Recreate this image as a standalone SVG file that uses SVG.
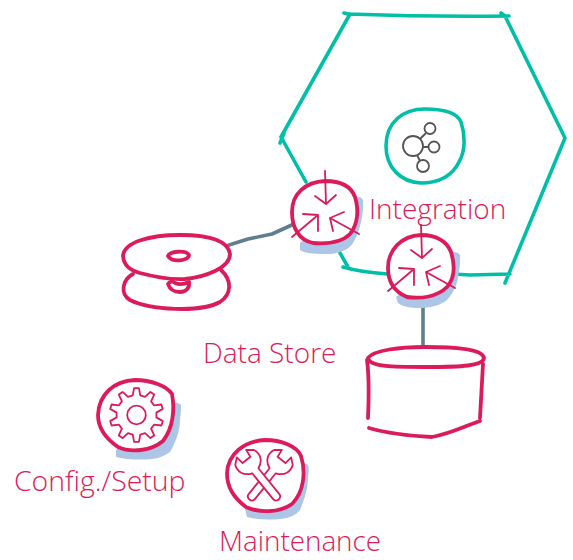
<svg xmlns="http://www.w3.org/2000/svg" width="573" height="560" viewBox="0 0 573 560">
<style>
.teal{fill:none;stroke:#00bfa8;stroke-width:3.6;stroke-linecap:round;stroke-linejoin:round}
.tealw{fill:#fff;stroke:#00bfa8;stroke-width:3.6;stroke-linejoin:round}
.red{fill:none;stroke:#dc1b5a;stroke-width:3.8;stroke-linecap:round;stroke-linejoin:round}
.redw{fill:#fff;stroke:#dc1b5a;stroke-width:3.8;stroke-linecap:round;stroke-linejoin:round}
.thin{fill:none;stroke:#dc1b5a;stroke-width:1.8;stroke-linecap:round;stroke-linejoin:round}
.thinw{fill:#fff;stroke:#dc1b5a;stroke-width:1.8;stroke-linecap:round;stroke-linejoin:round}
.conn{fill:none;stroke:#5f7f8e;stroke-width:3.6;stroke-linecap:round;stroke-linejoin:round}
.shadow{fill:#adc5e6}
.gray{fill:none;stroke:#555;stroke-width:1.8}
text{font-family:"Open Sans","Noto Sans",sans-serif;font-weight:300;font-size:28px;fill:#dc1b5a}
</style>
<defs>
<g id="compress">
<path class="thin" d="M0 -33L1 0M-10 -8L1 0L11 -9"/>
<path class="thin" d="M-33 33L-7 11M-22 10L-7 11L-7 27"/>
<path class="thin" d="M34 30L5 14M19 8L5 14L8 27"/>
</g>
<path id="wrench" d="M-4 10L-4 43Q-4 47 0 47Q4 47 4 43L4 10C12 7 15 0 12 -7L6 -12L5 -4L-5 -4L-6 -12L-12 -7C-15 0 -12 7 -4 10Z"/>
</defs>
<g id="connectors">
<path class="conn" d="M229 245L248 239L272 234L294 224"/>
<path class="conn" d="M423 304L423 347"/>
</g>
<g id="integration-boundary">
<path class="teal" d="M344 13L348 14Q430 17 509 16M501 13L505 16L565 138L505 283M350 14L281 137M284 133L280 143M281 137L306 182M340 253L348 267M343 267Q360 272 387 274M453 274L470 275L510 274"/>
</g>
<g id="integration-hub">
<path class="tealw" d="M386 146C386 122 403 109 425 109C441 109 457 112 461 122C465 134 466 150 459 162C451 178 436 183 421 183C401 182 386 168 386 146Z"/>
<g class="gray">
<circle cx="413" cy="146" r="10"/><circle cx="430" cy="128.500" r="5.500"/><circle cx="434" cy="147" r="5.500"/><circle cx="423" cy="166" r="6"/>
<path d="M420 139L426 133M423 147L428 147M417 155L420 161"/>
</g>
</g>
<g id="data-store-disks">
<path class="red" d="M133 274C122 280 120 294 130 300C150 310 200 313 220 302C232 294 232 280 221 270"/>
<path class="redw" d="M180 235C150 235 124 242 123 256C124 266 130 270 140 273C155 277 170 280 185 279C205 277 230 268 230 254C228 240 208 235 180 235Z"/>
<path class="red" d="M168 256C170 251 186 250 189 255C189 261 172 263 168 256Z"/>
<path class="red" d="M168 284C170 281 173 281 175 283C180 285 185 284 189 282C190 288 186 292 180 292C174 292 170 290 168 284Z"/>
</g>
<g id="cylinder">
<path class="red" d="M368 358C374 350 400 347 425 347C455 347 483 349 484 358C483 366 462 367 425 367C395 367 369 367 368 358Z"/>
<path class="red" d="M367 360C369 375 369 395 368 418M369 428C390 434 412 436 432 437C450 434 465 426 480 421M483 364C482 380 481 400 480 418"/>
</g>
<g id="compute-node-1">
<path class="shadow" d="M300 243L300 250C305 254 318 254 330 254C342 253 350 248 353 243C360 232 364 213 363 200C362 197 358 196 355 197Z"/>
<path class="redw" d="M292 212C292 194 305 182 325 181C341 181 351 186 355 197C359 210 358 224 350 234C341 243 326 244 313 243C299 240 292 228 292 212Z"/>
<use href="#compress" x="325" y="204"/>
</g>
<g id="compute-node-2">
<path class="shadow" d="M396 297L398 303C405 308 414 308 423 308C435 307 442 304 447 300C454 292 457 285 458 277C460 268 460 262 460 255C458 252 455 252 452 252Z"/>
<path class="redw" d="M388 268C388 250 401 236 421 235C437 235 447 242 451 252C455 265 455 278 447 287C437 297 421 299 407 297C395 292 388 282 388 268Z"/>
<use href="#compress" x="421" y="258"/>
</g>
<g id="config-node">
<path class="shadow" d="M116 450L116 457C128 460 142 460 152 459C160 458 166 455 170 452C176 442 180 430 180 420C181 413 181 409 181 405C179 403 176 402 173 403Z"/>
<path class="redw" d="M98 415C99 394 114 381 135 380C151 380 167 386 172 394C175 410 173 428 163 441C151 451 131 453 118 447C105 438 98 428 98 415Z"/>
<g transform="translate(136.500 415)">
<path class="thin" d="M-3.800 -19.600L-2.400 -26.900L2.400 -26.900L3.800 -19.600L8.500 -18.100L13.900 -23.100L17.700 -20.400L14.600 -13.600L17.500 -9.700L24.900 -10.500L26.300 -6.100L19.900 -2.400L19.900 2.400L26.300 6.100L24.900 10.500L17.500 9.700L14.600 13.600L17.700 20.400L13.900 23.100L8.500 18.100L3.800 19.600L2.400 26.900L-2.400 26.900L-3.800 19.600L-8.500 18.100L-13.900 23.100L-17.700 20.400L-14.600 13.600L-17.500 9.700L-24.900 10.500L-26.300 6.100L-19.900 2.400L-19.900 -2.400L-26.300 -6.100L-24.900 -10.500L-17.500 -9.700L-14.600 -13.600L-17.700 -20.400L-13.900 -23.100L-8.500 -18.100Z"/>
<circle class="thin" r="9.300"/>
</g>
</g>
<g id="maintenance-node">
<path class="shadow" d="M244 505L247 517C258 520 270 520 280 519C290 518 296 515 300 510C305 498 308 488 308 477C309 472 309 468 308 465C306 463 304 463 302 463Z"/>
<path class="redw" d="M227 473C228 454 244 441 265 440C281 440 297 446 301 456C306 472 304 492 292 504C279 513 259 513 246 507C233 497 227 487 227 473Z"/>
<use href="#wrench" class="thinw" transform="translate(279 463) rotate(39)"/>
<use href="#wrench" class="thinw" transform="translate(249 463) rotate(-39)"/>
</g>
<g id="labels">
<text x="369" y="219">Integration</text>
<text x="203" y="363">Data Store</text>
<text x="14" y="491" style="font-size:28.400px">Config./Setup</text>
<text x="219" y="551" style="font-size:27.800px">Maintenance</text>
</g>
</svg>
